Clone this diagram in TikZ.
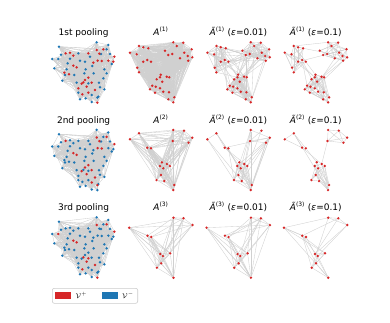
\documentclass[tikz,border=0pt]{standalone}
\usepackage{fontspec}
\setmainfont{DejaVu Sans}
\usetikzlibrary{backgrounds}
\definecolor{vred}{HTML}{D62728}
\definecolor{vblue}{HTML}{1F77B4}
\definecolor{edgegray}{HTML}{D0D0D0}
\definecolor{framegray}{HTML}{CCCCCC}
% pooled graph layout: x/y/red in row 1/2/3
\newcommand{\poolpts}{42/20/0/0/0, 155/7/0/0/0, 190/15/0/0/0, 22/57/0/0/0, 48/44/0/0/0,
  100/40/0/0/0, 28/85/0/0/0, 68/70/0/0/0, 105/62/0/0/0, 52/122/0/0/0,
  88/105/0/0/0, 60/105/0/0/0, 135/50/0/0/0, 168/42/0/0/0, 142/78/0/0/0,
  178/88/0/0/0, 200/72/0/0/0, 185/100/0/0/0, 162/128/0/0/0, 165/142/0/0/0,
  100/158/0/0/0, 105/178/0/0/0, 122/175/0/0/0, 140/186/0/0/0, 160/170/0/0/0,
  178/148/0/0/0, 118/100/0/0/0, 75/56/0/0/0, 122/88/0/0/0, 146/100/0/0/0,
  62/40/1/1/0, 75/38/1/0/0, 85/47/1/0/0, 130/40/1/0/0, 155/30/1/1/1,
  175/28/1/0/0, 185/28/0/1/1, 163/41/1/1/0, 208/50/1/1/1, 205/65/1/0/0,
  158/62/1/1/0, 170/63/1/1/0, 145/68/1/0/0, 190/62/1/0/0, 40/57/0/0/1,
  85/77/1/1/1, 95/82/1/1/1, 58/98/1/0/0, 72/103/1/0/0, 115/127/1/0/1,
  130/113/1/1/0, 120/120/1/1/0, 130/130/0/0/1, 140/128/1/1/0, 125/140/1/1/1,
  110/131/1/1/0, 100/145/1/0/0, 150/150/1/1/1, 112/163/1/0/1, 140/165/0/1/0,
  157/173/0/1/0, 157/188/1/0/1, 130/158/1/0/0, 195/42/0/0/0, 120/65/0/0/0,
  65/88/0/0/0, 175/115/0/0/0, 95/128/0/0/0}
% kept nodes, first panel of each row
\newcommand{\rowonepts}{130/52.7, 139/46, 143.3/47.3, 148.3/48.3, 136.7/54.3,
  143.3/61.7, 147.3/60, 151/61.7, 137.3/67.7, 139/72.3,
  173.3/42.3, 176.7/46, 183.3/42.7, 165/50.7, 168.3/55, 172.3/54,
  180/58.3, 184.3/52.7, 187.7/56, 192.3/57.3, 191.7/49.3, 188.3/60.7,
  160.7/74.7, 160/77.3, 156.7/79.3, 166.7/76.7, 169.3/77.3, 162.3/81.7,
  155.7/86.7, 152.3/85.7, 150/89.3, 160/88.3, 163.3/91.7, 155/92.7,
  169/92.3, 174.3/97.3, 168.3/99.3, 173.3/102.3}
\newcommand{\rowtwopts}{130/139.3, 139/133.3, 147.3/147.7, 151/148.3,
  173.3/130, 184/130.7, 192.3/137.7, 172.7/141, 188.6/142.7,
  161.9/162.3, 166.9/164, 169.9/166, 159.9/166, 163.3/168.3,
  161/175, 156.6/180, 164.3/181, 174.3/185, 173.3/190}
\newcommand{\rowthreepts}{129.2/227.7, 147.5/235.7, 151.2/237,
  173.5/217.7, 183.5/218.3, 192.5/225,
  160.2/254, 162.9/256, 170.2/253.3, 161.2/263.3, 156.9/267.7, 173.5/277.7}
% random links: prefix, count, cluster ends, p inside, p across
\newcommand{\linkall}[6]{%
  \foreach \i in {1,...,#2}{
    \foreach \j in {\i,...,#2}{
      \ifnum\j>\i
        \pgfmathtruncatemacro\ci{(\i>#3)+(\i>#4)}
        \pgfmathtruncatemacro\cj{(\j>#3)+(\j>#4)}
        \ifnum\ci=\cj \def\pp{#5}\else\def\pp{#6}\fi
        \pgfmathtruncatemacro\ok{rnd<\pp}
        \ifnum\ok=1 \draw[edge] (#1\i) -- (#1\j);\fi
      \fi
    }
  }%
}
\tikzset{
  dot/.style={circle, fill=vred, inner sep=0pt, minimum size=2.7pt},
  edge/.style={draw=edgegray, line width=0.35pt},
  title/.style={font=\fontsize{9}{11}\selectfont, anchor=base},
  patch/.style={minimum width=16pt, minimum height=7.3pt, inner sep=0pt},
}

\begin{document}
\begin{tikzpicture}[x=1pt, y=-1pt]
  \useasboundingbox (0,0) rectangle (390,322);
  \pgfmathsetseed{11}
  % pooled graphs
  \foreach \row/\dy in {1/0,2/87.5,3/175}{
    \foreach \x/\y/\fa/\fb/\fc [count=\i] in \poolpts{
      \ifcase\row\relax\or\let\flag\fa\or\let\flag\fb\or\let\flag\fc\fi
      \ifnum\flag=1 \def\dotcol{vred}\else\def\dotcol{vblue}\fi
      \node[dot, fill=\dotcol] (pool\row-\i) at ({45+\x/3},{40+\dy+\y/3}) {};
    }
  }
  % adjacency panels
  \foreach \cl in {2,3,4}{
    \foreach \x/\y [count=\i] in \rowonepts
      \node[dot] (a1\cl-\i) at ({\x+77.4*(\cl-2)},\y) {};
    \foreach \x/\y [count=\i] in \rowtwopts
      \node[dot] (a2\cl-\i) at ({\x+77.4*(\cl-2)},\y) {};
    \foreach \x/\y [count=\i] in \rowthreepts
      \node[dot] (a3\cl-\i) at ({\x+77.4*(\cl-2)},\y) {};
  }
  \begin{pgfonlayer}{background}
    \fill[white] (0,0) rectangle (390,322);
    \foreach \row in {1,2,3}{\linkall{pool\row-}{68}{68}{68}{0.28}{0.28}}
    \linkall{a12-}{38}{10}{22}{1}{1}
    \linkall{a13-}{38}{10}{22}{0.9}{0.1}
    \linkall{a14-}{38}{10}{22}{0.55}{0.03}
    \linkall{a22-}{19}{4}{9}{1}{0.75}
    \linkall{a23-}{19}{4}{9}{0.7}{0.2}
    \linkall{a24-}{19}{4}{9}{0.6}{0.03}
    \draw[edge] (a24-4) -- (a24-10) (a24-8) -- (a24-11);
    \linkall{a32-}{12}{3}{6}{1}{0.7}
    \linkall{a33-}{12}{3}{6}{0.9}{0.5}
    \linkall{a34-}{12}{3}{6}{0.8}{0.35}
  \end{pgfonlayer}
  % titles
  \foreach \row/\nm in {1/1st,2/2nd,3/3rd}{
    \pgfmathsetmacro\by{35.5+87.5*(\row-1)}
    \node[title] (t\row-1) at (83.6,\by) {\nm\ pooling};
    \node[title] (t\row-2) at (161,\by) {\textit{A}\textsuperscript{(\row)}};
    \node[title] (t\row-3) at (238.4,\by) {\textit{Ã}\textsuperscript{(\row)} (\textit{ε}=0.01)};
    \node[title] (t\row-4) at (315.8,\by) {\textit{Ã}\textsuperscript{(\row)} (\textit{ε}=0.1)};
  }
  % legend
  \node[draw=framegray, rounded corners=2pt, line width=0.6pt, minimum width=85.4pt,
        minimum height=15pt, inner sep=0pt] (legend) at (95,295.8) {};
  \node[patch, fill=vred] (keyp) at (63,295.3) {};
  \node[anchor=west, inner sep=0pt, font=\fontsize{7}{8}\selectfont] (labp) at (75.5,295.3) {$\mathcal{V}^{+}$};
  \node[patch, fill=vblue] (keym) at (110,295.3) {};
  \node[anchor=west, inner sep=0pt, font=\fontsize{7}{8}\selectfont] (labm) at (122,295.3) {$\mathcal{V}^{-}$};
\end{tikzpicture}
\end{document}
